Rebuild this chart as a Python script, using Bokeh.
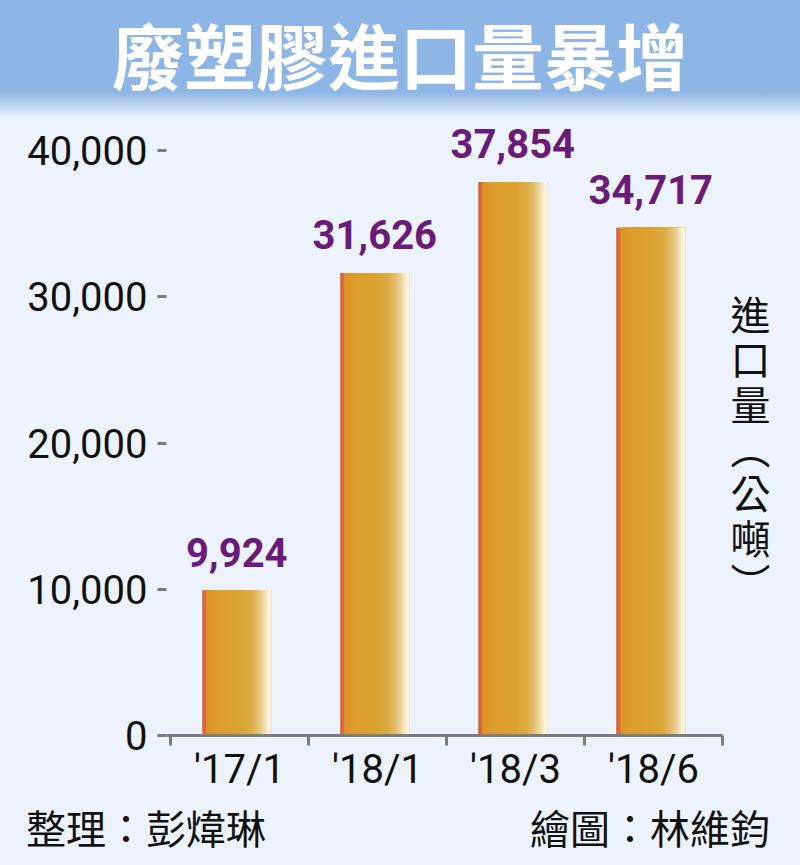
from bokeh.core.properties import value
from bokeh.embed import file_html
from bokeh.layouts import column
from bokeh.models import ColumnDataSource, Div, FixedTicker, LinearAxis, NumeralTickFormatter, Range1d
from bokeh.plotting import figure
from bokeh.resources import INLINE

# data
title_text = "廢塑膠進口量暴增"
periods = ["'17/1", "'18/1", "'18/3", "'18/6"]
imports_tonnes = [9924, 31626, 37854, 34717]
y_ticks = [0, 10000, 20000, 30000, 40000]
unit_label = "進口量（公噸）"
credit_left = "整理：彭煒琳"
credit_right = "繪圖：林維鈞"

W = 800
BG = "#ecf3fc"
BANNER = "#8db5e6"
PURPLE = "#6a1b78"
AXIS_GREY = "#7c7c7c"
CJK = "Noto Sans CJK TC"
LATIN = "Roboto"

BAR_SHIFT = -0.02
BAR_WIDTH = 0.5
# colour stops across the width of a bar (left edge -> right edge)
BAR_STOPS = [
    (0.00, "#d25a3c"),
    (0.04, "#d96c34"),
    (0.07, "#e0902a"),
    (0.18, "#dc9c2c"),
    (0.55, "#dba333"),
    (0.70, "#ddab45"),
    (0.80, "#e3bd6c"),
    (0.88, "#eed49c"),
    (0.94, "#f8ebd0"),
    (1.00, "#fffaf2"),
]


def _rgb(h):
    h = h.lstrip("#")
    return tuple(int(h[i:i + 2], 16) for i in (0, 2, 4))


def _mix(c0, c1, t):
    a, b = _rgb(c0), _rgb(c1)
    return "#%02x%02x%02x" % tuple(round(a[i] + (b[i] - a[i]) * t) for i in range(3))


def _color_at(stops, f):
    for (f0, c0), (f1, c1) in zip(stops, stops[1:]):
        if f0 <= f <= f1:
            return _mix(c0, c1, (f - f0) / (f1 - f0) if f1 > f0 else 0)
    return stops[-1][1]


# ---- banner -------------------------------------------------------------
banner = Div(
    width=W, height=120, margin=0,
    text=(
        f'<div style="width:{W}px;height:120px;margin:0;'
        f'background:linear-gradient(to bottom,{BANNER} 0px,{BANNER} 92px,{BG} 118px,{BG} 120px);">'
        f'<div style="line-height:normal;text-align:center;color:#ffffff;'
        f"font-family:'{CJK}';font-weight:bold;font-size:72px;white-space:nowrap;\">"
        f"{title_text}</div></div>"
    ),
)

# ---- chart --------------------------------------------------------------
p = figure(
    width=W, height=692, margin=0,
    x_range=Range1d(-0.529, 4.065), y_range=Range1d(0, 41915),
    output_backend="svg", toolbar_location=None, x_axis_type=None, y_axis_type=None,
    background_fill_color=BG, border_fill_color=BG, outline_line_color=None,
    min_border_left=166, min_border_right=0, min_border_top=2, min_border_bottom=77,
)

xs = [i + BAR_SHIFT for i in range(len(periods))]
n_strips = 36
for k in range(n_strips):
    f = k / n_strips
    left = [x - BAR_WIDTH / 2 + f * BAR_WIDTH for x in xs]
    right = [x + BAR_WIDTH / 2 for x in xs]
    p.quad(left=left, right=right, bottom=0, top=imports_tonnes,
           fill_color=_color_at(BAR_STOPS, f + 0.5 / n_strips), line_color=None)

src = ColumnDataSource({"x": xs, "y": imports_tonnes,
                        "label": [f"{v:,}" for v in imports_tonnes]})
p.text("x", "y", text="label", source=src, text_align="center", text_baseline="alphabetic",
       y_offset=-38, text_color=PURPLE, text_font=value(LATIN), text_font_style="bold",
       text_font_size="40px")

vertical = "\n".join({"（": "︵", "）": "︶"}.get(c, c) for c in unit_label)
p.text(x=[3.703], y=[19700], text=[vertical], text_align="center", text_baseline="middle",
       text_line_height=0.77, text_color="#111111", text_font=value(CJK),
       text_font_size="40px")

xaxis = LinearAxis(
    ticker=FixedTicker(ticks=list(range(len(periods))),
                       minor_ticks=[i - 0.5 for i in range(len(periods) + 1)]),
    major_label_overrides={i: lab for i, lab in enumerate(periods)},
    bounds=(-0.529, len(periods) - 0.5),
    axis_line_color=AXIS_GREY, axis_line_width=3,
    major_tick_out=0, major_tick_in=0,
    minor_tick_out=10, minor_tick_in=0, minor_tick_line_color=AXIS_GREY, minor_tick_line_width=3,
    major_label_standoff=0, major_label_text_font=LATIN, major_label_text_font_size="40px",
    major_label_text_color="#111111",
)
p.add_layout(xaxis, "below")

yaxis = LinearAxis(
    ticker=FixedTicker(ticks=y_ticks, minor_ticks=[]),
    formatter=NumeralTickFormatter(format="0,0"),
    axis_line_color=None,
    major_tick_out=9, major_tick_in=0, major_tick_line_color=AXIS_GREY, major_tick_line_width=3,
    minor_tick_line_color=None,
    major_label_standoff=10, major_label_text_font=LATIN, major_label_text_font_size="40px",
    major_label_text_color="#111111",
)
p.add_layout(yaxis, "left")

# ---- footer -------------------------------------------------------------
foot = Div(
    width=W, height=53, margin=0,
    text=(
        f'<div style="width:{W}px;height:53px;background:{BG};">'
        f'<div style="display:flex;justify-content:space-between;box-sizing:border-box;'
        f'width:{W}px;margin-top:-14px;padding:0 30px 0 26px;line-height:normal;'
        f"font-family:'{CJK}';font-size:40px;color:#111111;\">"
        f"<span>{credit_left}</span><span>{credit_right}</span></div></div>"
    ),
)

layout = column(banner, p, foot, spacing=0, margin=0, styles={"background": BG})
open("out.html", "w").write(file_html(layout, INLINE))
